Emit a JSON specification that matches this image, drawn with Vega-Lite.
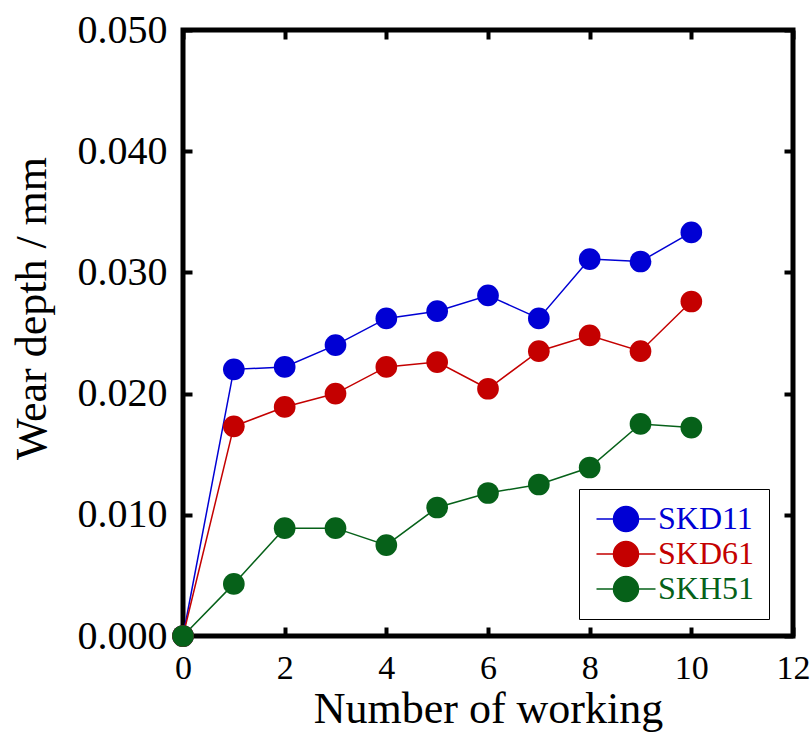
{
  "$schema": "https://vega.github.io/schema/vega-lite/v6.json",
  "autosize": "none",
  "width": 610,
  "height": 606,
  "padding": {"left": 183, "top": 30, "right": 19, "bottom": 99},
  "background": "white",
  "config": {
    "font": "Liberation Serif",
    "view": {"stroke": "black", "strokeWidth": 5}
  },
  "data": {
    "values": [
      {"n": 0, "depth": 0.0, "steel": "SKD11"},
      {"n": 1, "depth": 0.0220, "steel": "SKD11"},
      {"n": 2, "depth": 0.0222, "steel": "SKD11"},
      {"n": 3, "depth": 0.0240, "steel": "SKD11"},
      {"n": 4, "depth": 0.0262, "steel": "SKD11"},
      {"n": 5, "depth": 0.0268, "steel": "SKD11"},
      {"n": 6, "depth": 0.0281, "steel": "SKD11"},
      {"n": 7, "depth": 0.0262, "steel": "SKD11"},
      {"n": 8, "depth": 0.0311, "steel": "SKD11"},
      {"n": 9, "depth": 0.0309, "steel": "SKD11"},
      {"n": 10, "depth": 0.0333, "steel": "SKD11"},
      {"n": 0, "depth": 0.0, "steel": "SKD61"},
      {"n": 1, "depth": 0.0173, "steel": "SKD61"},
      {"n": 2, "depth": 0.0189, "steel": "SKD61"},
      {"n": 3, "depth": 0.0200, "steel": "SKD61"},
      {"n": 4, "depth": 0.0222, "steel": "SKD61"},
      {"n": 5, "depth": 0.0226, "steel": "SKD61"},
      {"n": 6, "depth": 0.0204, "steel": "SKD61"},
      {"n": 7, "depth": 0.0235, "steel": "SKD61"},
      {"n": 8, "depth": 0.0248, "steel": "SKD61"},
      {"n": 9, "depth": 0.0235, "steel": "SKD61"},
      {"n": 10, "depth": 0.0276, "steel": "SKD61"},
      {"n": 0, "depth": 0.0, "steel": "SKH51"},
      {"n": 1, "depth": 0.0043, "steel": "SKH51"},
      {"n": 2, "depth": 0.0089, "steel": "SKH51"},
      {"n": 3, "depth": 0.0089, "steel": "SKH51"},
      {"n": 4, "depth": 0.0075, "steel": "SKH51"},
      {"n": 5, "depth": 0.0106, "steel": "SKH51"},
      {"n": 6, "depth": 0.0118, "steel": "SKH51"},
      {"n": 7, "depth": 0.0125, "steel": "SKH51"},
      {"n": 8, "depth": 0.0139, "steel": "SKH51"},
      {"n": 9, "depth": 0.0175, "steel": "SKH51"},
      {"n": 10, "depth": 0.0172, "steel": "SKH51"}
    ]
  },
  "resolve": {"axis": {"x": "independent", "y": "independent"}},
  "layer": [
    {
      "mark": {"type": "line", "strokeWidth": 1.5},
      "encoding": {
        "x": {
          "field": "n", "type": "quantitative",
          "scale": {"domain": [0, 12], "nice": false},
          "axis": {
            "title": "Number of working", "titleFontSize": 44, "titleFontWeight": "normal", "titleColor": "black",
            "titlePadding": 2,
            "values": [0, 2, 4, 6, 8, 10, 12], "labelFontSize": 34, "labelColor": "black",
            "labelPadding": 24, "labelFlush": false,
            "domain": false, "grid": false, "tickSize": -9, "tickWidth": 4, "tickColor": "black"
          }
        },
        "y": {
          "field": "depth", "type": "quantitative",
          "scale": {"domain": [0, 0.05], "nice": false},
          "axis": {
            "title": "Wear depth / mm", "titleFontSize": 44, "titleFontWeight": "normal", "titleColor": "black",
            "titlePadding": 23, "titleY": 278,
            "values": [0, 0.01, 0.02, 0.03, 0.04, 0.05], "format": ".3f", "labelFontSize": 40, "labelColor": "black",
            "labelPadding": 25, "labelFlush": false,
            "domain": false, "grid": false, "tickSize": -9, "tickWidth": 4, "tickColor": "black"
          }
        },
        "color": {
          "field": "steel", "type": "nominal",
          "scale": {"domain": ["SKD11", "SKD61", "SKH51"], "range": ["#0000D4", "#C40000", "#066119"]},
          "legend": {
            "title": null,
            "orient": "none", "legendX": 396, "legendY": 459,
            "symbolType": "M-2.36,0H-1A1,1 0 1,1 1,0A1,1 0 1,1 -1,0M1,0H2.36",
            "symbolSize": 625,
            "symbolStrokeWidth": 1.5,
            "symbolOffset": 17,
            "labelFontSize": 32,
            "labelOffset": 16,
            "rowPadding": 3,
            "padding": 14,
            "strokeColor": "black",
            "fillColor": "white",
            "encode": {
              "labels": {"update": {"fill": {"signal": "scale('color', datum.value)"}}},
              "symbols": {"update": {
                "fill": {"signal": "scale('color', datum.value)"},
                "stroke": {"signal": "scale('color', datum.value)"},
                "opacity": {"value": 1}
              }}
            }
          }
        }
      }
    },
    {
      "mark": {"type": "point", "filled": true, "size": 470, "opacity": 1},
      "encoding": {
        "x": {
          "field": "n", "type": "quantitative",
          "axis": {"orient": "top", "title": null, "labels": false, "values": [0, 2, 4, 6, 8, 10, 12],
                   "domain": false, "grid": false, "tickSize": -9, "tickWidth": 4, "tickColor": "black"}
        },
        "y": {
          "field": "depth", "type": "quantitative",
          "axis": {"orient": "right", "title": null, "labels": false, "values": [0, 0.01, 0.02, 0.03, 0.04, 0.05],
                   "domain": false, "grid": false, "tickSize": -9, "tickWidth": 4, "tickColor": "black"}
        },
        "color": {"field": "steel", "type": "nominal"}
      }
    }
  ]
}
